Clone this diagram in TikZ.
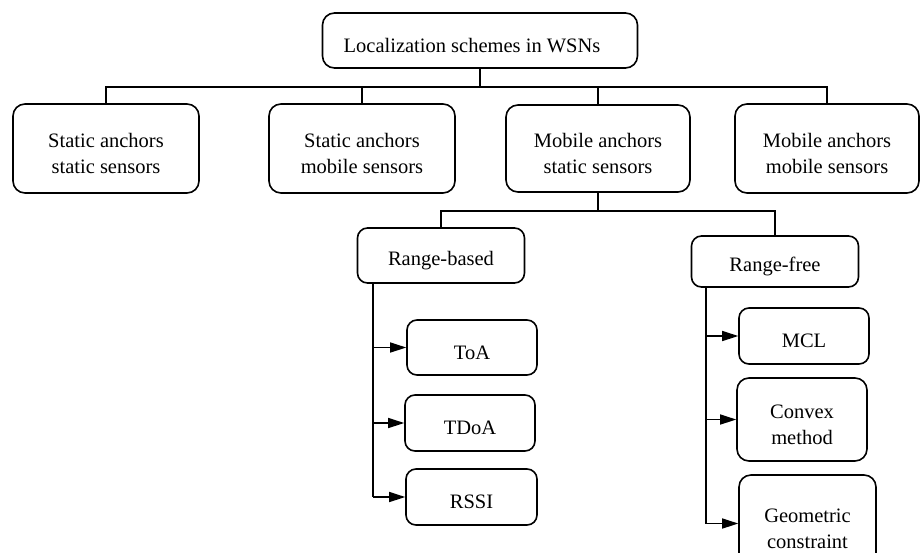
\documentclass[tikz,border=0pt]{standalone}
\usepackage{fontspec}
\setmainfont{Liberation Serif}
\usetikzlibrary{arrows.meta}
\newcommand{\tstrut}{\rule{0pt}{24pt}}
\begin{document}
\begin{tikzpicture}[x=1pt,y=1pt,
  box/.style={draw, line width=1.6pt, rounded corners=12pt, align=center, inner sep=0pt,
              font=\fontsize{20.5}{25.5}\selectfont},
  conn/.style={line width=1.6pt},
  arr/.style={line width=1.6pt, -{Triangle[length=16pt,width=10pt]}}]
\useasboundingbox (0,0) rectangle (920,-552);
\clip (0,0) rectangle (920,-552);

\node[box, minimum width=315pt, minimum height=55pt] (top) at (480,-40.5) {\tstrut Localization schemes in WSNs\hspace*{16pt}};

\node[box, minimum width=186pt, minimum height=89pt] (b1) at (106,-148.5) {\tstrut Static anchors\\static sensors};
\node[box, minimum width=186pt, minimum height=89pt] (b2) at (362,-148.5) {\tstrut Static anchors\\mobile sensors};
\node[box, minimum width=184pt, minimum height=87pt] (b3) at (598,-148.5) {\tstrut Mobile anchors\\static sensors};
\node[box, minimum width=184pt, minimum height=89pt] (b4) at (827,-148.5) {\tstrut Mobile anchors\\mobile sensors};

\node[box, minimum width=167pt, minimum height=55pt, rounded corners=10pt] (rb) at (441,-255.5) {\tstrut Range-based};
\node[box, minimum width=167pt, minimum height=51pt, rounded corners=10pt] (rf) at (775,-261.5) {\tstrut Range-free};

\node[box, minimum width=130pt, minimum height=55pt, rounded corners=10pt] (toa) at (472,-347.5) {\tstrut ToA};
\node[box, minimum width=130pt, minimum height=56pt, rounded corners=10pt] (tdoa) at (470,-423) {\tstrut TDoA};
\node[box, minimum width=131pt, minimum height=56pt, rounded corners=10pt] (rssi) at (471.5,-497) {\tstrut RSSI};

\node[box, minimum width=130pt, minimum height=56pt, rounded corners=10pt] (mcl) at (804,-336) {\tstrut MCL};
\node[box, minimum width=130pt, minimum height=83pt, rounded corners=12pt] (cvx) at (802,-419.5) {\tstrut Convex\\method};
\node[box, minimum width=137pt, minimum height=97pt, rounded corners=12pt] (geo) at (807.5,-523.5) {\tstrut Geometric\\constraint};

% top level connectors
\draw[conn] (top.south) -- ++(0,-18) coordinate (h1);
\draw[conn] (b1.north) -- (b1.north |- h1) -- (b4.north |- h1) -- (b4.north);
\draw[conn] (b2.north) -- (b2.north |- h1);
\draw[conn] (b3.north) -- (b3.north |- h1);

% second level
\draw[conn] (b3.south) -- ++(0,-18) coordinate (h2);
\draw[conn] (rb.north) -- (rb.north |- h2) -- (rf.north |- h2) -- (rf.north);

% range-based trunk
\coordinate (rbt) at (373,-283);
\draw[conn] (rbt) -- (rbt |- rssi.west);
\draw[arr] (rbt |- toa.west) -- (toa.west);
\draw[arr] (rbt |- tdoa.west) -- (tdoa.west);
\draw[arr] (rbt |- rssi.west) -- (rssi.west);

% range-free trunk
\coordinate (rft) at (706,-287);
\draw[conn] (rft) -- (rft |- geo.west);
\draw[arr] (rft |- mcl.west) -- (mcl.west);
\draw[arr] (rft |- cvx.west) -- (cvx.west);
\draw[arr] (rft |- geo.west) -- (geo.west);
\end{tikzpicture}
\end{document}
